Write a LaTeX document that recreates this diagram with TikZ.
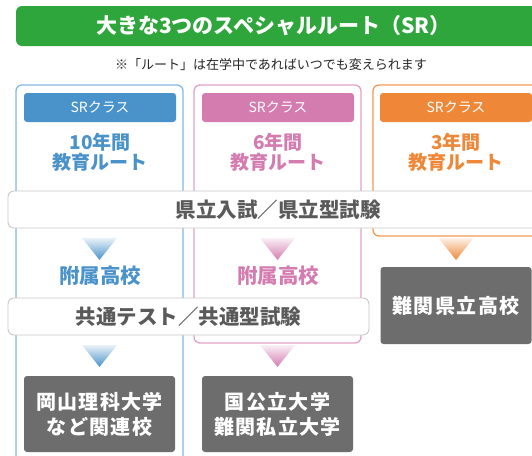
\documentclass[tikz,border=0pt]{standalone}
\usepackage{fontspec}
\setmainfont{Noto Sans CJK JP}
\definecolor{srgreen}{HTML}{2FA63C}
\definecolor{srblue}{HTML}{4A92CA}
\definecolor{srblueline}{HTML}{86B8E0}
\definecolor{srpink}{HTML}{D47BB0}
\definecolor{srpinkline}{HTML}{E4A2C8}
\definecolor{srorange}{HTML}{EE8838}
\definecolor{srorangeline}{HTML}{F09A55}
\definecolor{destgray}{HTML}{6D6D6D}
\definecolor{bandtext}{HTML}{5A5A5A}
\definecolor{bandline}{HTML}{C8C8C8}
\newcommand\arrowtri[3]{\shade[top color=#3!12, bottom color=#3] (#1-17.5,#2) -- (#1+17.5,#2) -- (#1,#2+22) -- cycle;}
\begin{document}
\begin{tikzpicture}[x=1pt,y=-1pt,
  colbox/.style={rounded corners=6pt, line width=1.3pt, fill=white},
  lab/.style={rounded corners=3pt, minimum width=152pt, minimum height=29pt, inner sep=0pt, text=white, font=\fontsize{14}{16}\selectfont},
  route/.style={align=center, inner sep=0pt, font=\bfseries\fontsize{19}{20}\selectfont},
  band/.style={draw=bandline, fill=white, rounded corners=6pt, line width=0.9pt, inner sep=0pt, minimum height=37pt, text=bandtext, font=\bfseries\fontsize{20.5}{22}\selectfont},
  dest/.style={fill=destgray, rounded corners=3pt, text=white, align=center, inner sep=0pt, minimum width=151pt, font=\bfseries\fontsize{20}{25}\selectfont\addfontfeature{LetterSpace=7}}]
\useasboundingbox (0,0) rectangle (532,455);
\clip (0,0) rectangle (532,455);
% title
\fill[srgreen, rounded corners=6pt] (16,6) rectangle (560,46);
\node[text=white, inner sep=0pt, font=\bfseries\fontsize{21}{24}\selectfont] (title) at (273.5,26) {大きな3つのスペシャルルート（SR）};
\node[text=black!85, inner sep=0pt, font=\fontsize{13}{15}\selectfont] (note) at (271,65) {※「ルート」は在学中であればいつでも変えられます};
% columns
\draw[colbox, draw=srblueline] (16,85) rectangle (183,480);
\draw[colbox, draw=srpinkline] (194,85) rectangle (361,343);
\draw[colbox, draw=srorangeline] (373,85) rectangle (545,236);
% labels
\node[lab, fill=srblue] (lb) at (100,107.5) {SRクラス};
\node[lab, fill=srpink] (lp) at (278,107.5) {SRクラス};
\node[lab, fill=srorange] (lo) at (456,107.5) {SRクラス};
\node[route, text=srblue] (rb) at (100,152) {10年間\\教育ルート};
\node[route, text=srpink] (rp) at (278,152) {6年間\\教育ルート};
\node[route, text=srorange] (ro) at (456,152) {3年間\\教育ルート};
% band 1
\node[band, minimum width=540pt] (band1) at (278,209.5) {県立入試／県立型試験};
% arrows 1
\arrowtri{99.5}{238}{srblue}
\arrowtri{277.5}{238}{srpink}
\arrowtri{456}{238}{srorange}
\node[route, text=srblue, font=\bfseries\fontsize{20.5}{22}\selectfont] (fb) at (100,276) {附属高校};
\node[route, text=srpink, font=\bfseries\fontsize{20.5}{22}\selectfont] (fp) at (278,276) {附属高校};
\node[dest, minimum height=77pt] (dko) at (456,305.5) {難関県立高校};
% band 2
\node[band, minimum width=361pt] (band2) at (188.5,316.5) {共通テスト／共通型試験};
% arrows 2
\arrowtri{99.5}{345}{srblue}
\arrowtri{277.5}{345}{srpink}
% destinations
\node[dest, minimum height=76pt] (dbu) at (99.5,414) {岡山理科大学\\など関連校};
\node[dest, minimum height=76pt] (dpu) at (277.5,414) {国公立大学\\難関私立大学};
\end{tikzpicture}
\end{document}
